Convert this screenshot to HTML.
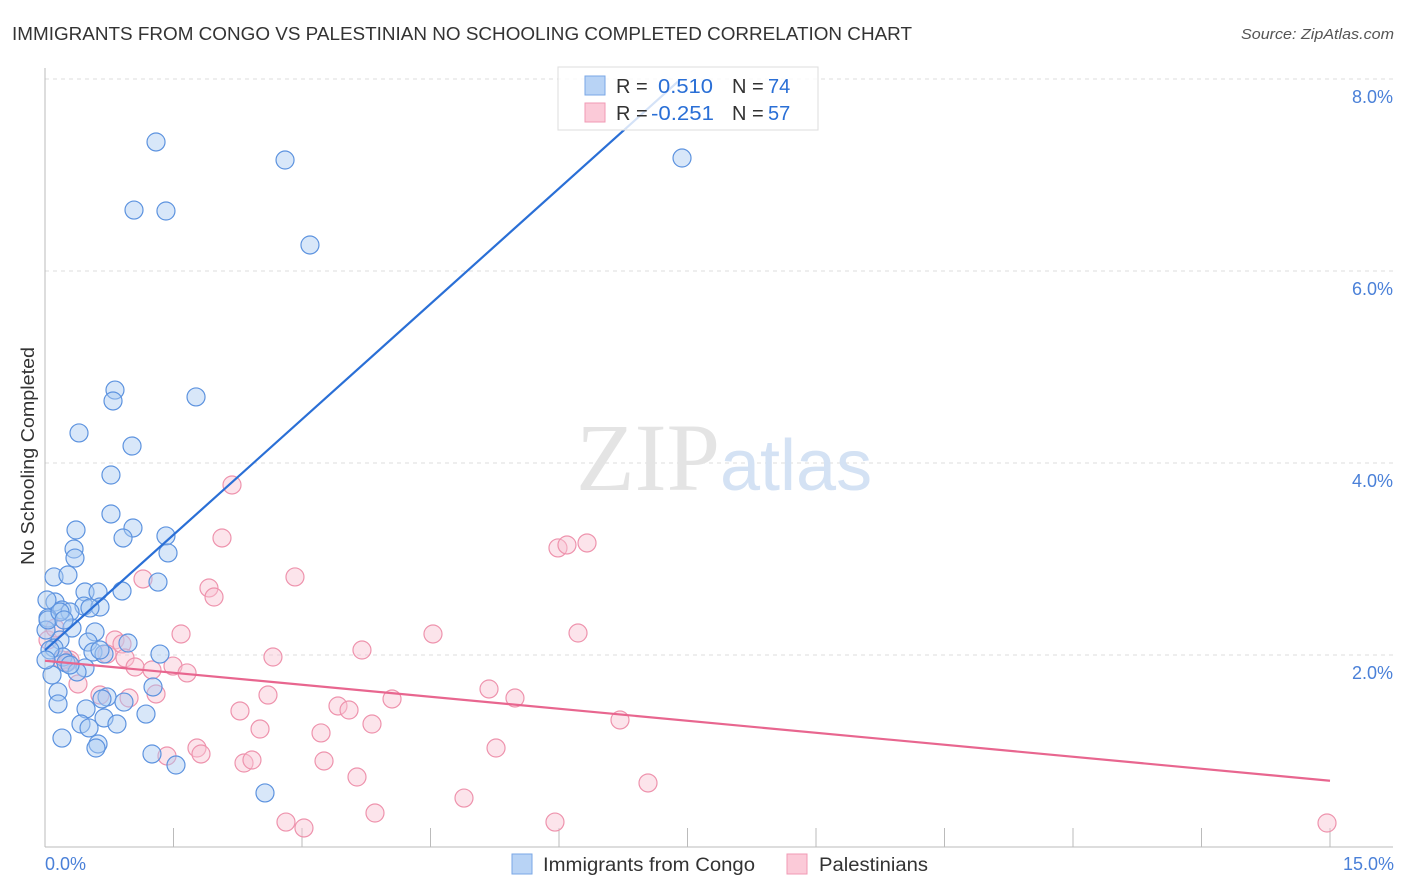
<!DOCTYPE html>
<html><head><meta charset="utf-8"><style>
body{margin:0;background:#fff;font-family:"Liberation Sans",sans-serif}
svg{display:block}
</style></head><body>
<svg width="1406" height="892">
<text x="12" y="40" font-size="18.5" fill="#333" textLength="900" lengthAdjust="spacingAndGlyphs">IMMIGRANTS FROM CONGO VS PALESTINIAN NO SCHOOLING COMPLETED CORRELATION CHART</text>
<text x="1241" y="39" font-size="15" fill="#555" font-style="italic" textLength="153" lengthAdjust="spacingAndGlyphs">Source: ZipAtlas.com</text>
<g id="grid"></g>
<text x="720" y="490" font-size="96" fill="#e4e4e4" font-family="Liberation Serif" text-anchor="end">ZIP</text>
<text x="720" y="490" font-size="72" fill="#d4e2f4" text-anchor="start">atlas</text>
<g id="pts"></g>
<g id="lines"></g>
<g>
<rect x="558" y="67" width="260" height="63" fill="#fff" fill-opacity="0.8" stroke="#ddd"/>
<rect x="585" y="76" width="20" height="19" fill="#b8d3f5" stroke="#7aa7e6"/>
<rect x="585" y="103" width="20" height="19" fill="#fbcad8" stroke="#f09ab4"/>
<text x="616" y="93" font-size="20" fill="#333">R = </text><text x="658" y="93" font-size="20" fill="#2a6fd6" textLength="55" lengthAdjust="spacingAndGlyphs">0.510</text>
<text x="732" y="93" font-size="20" fill="#333">N = </text><text x="768" y="93" font-size="20" fill="#2a6fd6">74</text>
<text x="616" y="120" font-size="20" fill="#333">R = </text><text x="651" y="120" font-size="20" fill="#2a6fd6" textLength="63" lengthAdjust="spacingAndGlyphs">-0.251</text>
<text x="732" y="120" font-size="20" fill="#333">N = </text><text x="768" y="120" font-size="20" fill="#2a6fd6">57</text>
</g>
<text transform="translate(34,456) rotate(-90)" font-size="18" fill="#333" text-anchor="middle" textLength="218" lengthAdjust="spacingAndGlyphs">No Schooling Completed</text>
<text x="45" y="870" font-size="18" fill="#4a80d8">0.0%</text>
<text x="1394" y="870" font-size="18" fill="#4a80d8" text-anchor="end">15.0%</text>
<g>
<rect x="512" y="854" width="20" height="20" fill="#b8d3f5" stroke="#7aa7e6"/>
<text x="543" y="871" font-size="19" fill="#333" textLength="212" lengthAdjust="spacingAndGlyphs">Immigrants from Congo</text>
<rect x="787" y="854" width="20" height="20" fill="#fbcad8" stroke="#f09ab4"/>
<text x="819" y="871" font-size="19" fill="#333" textLength="109" lengthAdjust="spacingAndGlyphs">Palestinians</text>
</g>
</svg>
<script>
const yTicks=[2,4,6,8];
const yTickLabels=["2.0%","4.0%","6.0%","8.0%"];
const xTicks=[0,1.5,3,4.5,6,7.5,9,10.5,12,13.5,15];
const congoPx=[[156,142],[285,160],[134,210],[166,211],[310,245],[682,158],[115,390],[196,397],[113,401],[79,433],[132,446],[111,475],[111,514],[76,530],[133,528],[166,536],[123,538],[74,549],[75,558],[168,553],[54,577],[68,575],[158,582],[85,592],[98,592],[122,591],[55,602],[62,610],[84,606],[100,607],[70,612],[48,618],[90,608],[72,628],[95,632],[60,640],[88,642],[128,643],[54,648],[93,652],[104,654],[160,654],[63,657],[66,663],[85,668],[52,675],[77,672],[58,692],[153,687],[107,697],[102,699],[124,702],[58,704],[86,709],[146,714],[104,718],[81,724],[89,728],[117,724],[62,738],[98,744],[96,748],[152,754],[176,765],[265,793],[46,630],[48,620],[50,650],[46,660],[70,665],[60,612],[100,650],[64,620],[47,600]];
const palPx=[[232,485],[222,538],[558,548],[567,545],[587,543],[143,579],[295,577],[209,588],[214,597],[181,634],[433,634],[578,633],[115,640],[122,644],[48,640],[362,650],[107,654],[273,657],[70,660],[125,658],[135,667],[152,670],[173,666],[187,673],[62,660],[78,684],[100,695],[129,698],[156,694],[268,695],[489,689],[515,698],[392,699],[240,711],[338,706],[349,710],[372,724],[260,729],[620,720],[321,733],[197,748],[167,756],[201,754],[496,748],[244,763],[252,760],[324,761],[357,777],[648,783],[464,798],[375,813],[286,822],[304,828],[555,822],[1327,823],[55,628],[68,662]];
const congoX=congoPx.map(p=>+((p[0]-45)/85.667).toFixed(3));
const congoY=congoPx.map(p=>+((847-p[1])/96).toFixed(3));
const palX=palPx.map(p=>+((p[0]-45)/85.667).toFixed(3));
const palY=palPx.map(p=>+((847-p[1])/96).toFixed(3));
const congoTrend=[[0,2.05],[7.41,7.99]];
const palTrend=[[0,1.94],[15,0.69]];
const X=v=>45+v*85.667, Y=v=>847-v*96;
const NS="http://www.w3.org/2000/svg";
function mk(t,a,p){const e=document.createElementNS(NS,t);for(const k in a)e.setAttribute(k,a[k]);p.appendChild(e);return e;}
const g=document.getElementById('grid');
yTicks.forEach((t,i)=>{
 const l=mk('line',{x1:45,x2:1393,y1:Y(t),y2:Y(t),stroke:'#ddd','stroke-dasharray':'4,4'},g);
 
 
 const tx=mk('text',{x:1393,y:Y(t)+24,'font-size':18,fill:'#4a80d8','text-anchor':'end'},g);
 tx.textContent=yTickLabels[i];
 
 
});
mk('line',{x1:45,x2:45,y1:68,y2:847,stroke:'#bbb'},g);
mk('line',{x1:45,x2:1393,y1:847,y2:847,stroke:'#bbb'},g);
xTicks.forEach(t=>{const l=mk('line',{x1:X(t),x2:X(t),y1:828,y2:847,stroke:'#bbb'},g);
 
 });
const pg=document.getElementById('pts');
palX.forEach((x,i)=>{const c=mk('circle',{cx:X(x),cy:Y(palY[i]),r:9,fill:'#f9c3d3','fill-opacity':0.45,stroke:'#ee93ad','stroke-width':1.2},pg);
 
 });
congoX.forEach((x,i)=>{const c=mk('circle',{cx:X(x),cy:Y(congoY[i]),r:9,fill:'#a9c9f2','fill-opacity':0.45,stroke:'#5d93df','stroke-width':1.2},pg);
 
 });
const lg=document.getElementById('lines');
const b=mk('line',{x1:X(congoTrend[0][0]),y1:Y(congoTrend[0][1]),x2:X(congoTrend[1][0]),y2:Y(congoTrend[1][1]),stroke:'#2a6fd6','stroke-width':2.2},lg);


const p=mk('line',{x1:X(palTrend[0][0]),y1:Y(palTrend[0][1]),x2:X(palTrend[1][0]),y2:Y(palTrend[1][1]),stroke:'#e8668f','stroke-width':2.2},lg);


</script>
</body></html>
